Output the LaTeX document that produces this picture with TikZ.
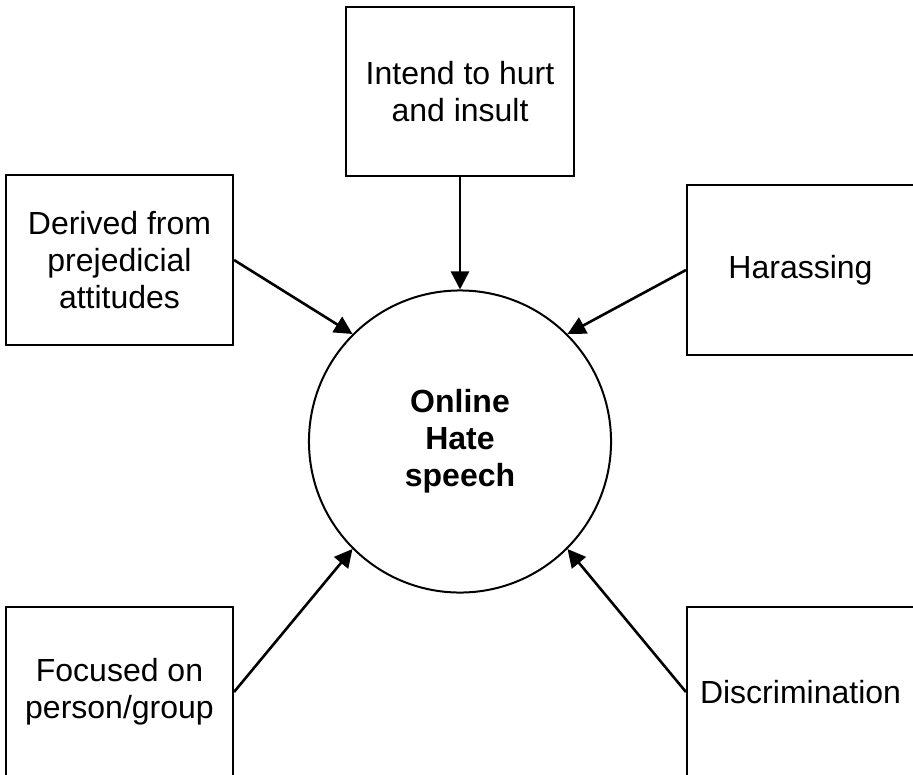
\documentclass[tikz,border=0pt]{standalone}
\usepackage{fontspec}
\setmainfont{Liberation Sans}
\usetikzlibrary{arrows.meta}
\begin{document}
\begin{tikzpicture}[x=0.025cm,y=-0.025cm,
		box/.style={draw,rectangle,line width=0.05cm,minimum width=5.675cm,minimum height=4.225cm,inner sep=0pt,align=center,font=\fontsize{22.76pt}{26.3pt}\selectfont},
		hub/.style={draw,circle,line width=0.05cm,minimum size=7.55cm,inner sep=0pt,align=center,font=\fontsize{22.76pt}{26.3pt}\selectfont\bfseries},
		link/.style={-{Triangle[length=0.45cm,width=0.45cm]},line width=0.065cm}]
%			\draw[step=50,red,very thin] (0,0) grid (913,775);
			\useasboundingbox (0,0) rectangle (913,775);

			\node[hub] (hate) at (460,441.5) {Online\\Hate\\speech};

			\node[box] (intend) at (460,91.5) {Intend to hurt\\and insult};
			\node[box] (derived) at (119.5,260) {Derived from\\prejedicial\\attitudes};
			\node[box] (harass) at (800.5,270) {Harassing};
			\node[box,minimum height=4.25cm] (focus) at (119.5,692) {Focused on\\person/group};
			\node[box,minimum height=4.25cm] (discrim) at (800.5,692) {Discrimination};

			\draw[link] (intend) -- (hate);
			\draw[link] (derived.east) -- (hate.135);
			\draw[link] (harass.west) -- (hate.45);
			\draw[link] (focus.east) -- (hate.225);
			\draw[link] (discrim.west) -- (hate.315);
	\end{tikzpicture}
\end{document}
